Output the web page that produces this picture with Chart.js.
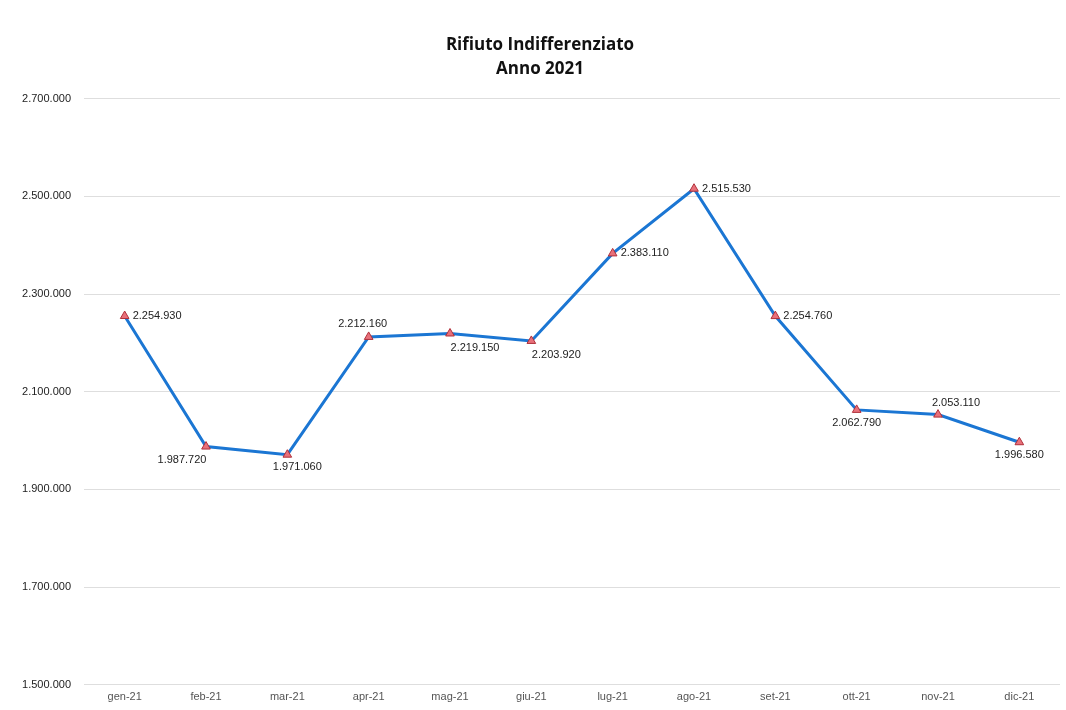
<!DOCTYPE html>
<html lang="it">
<head>
  <meta charset="UTF-8">
  <title>Rifiuto Indifferenziato 2021</title>
  <script src="https://cdn.jsdelivr.net/npm/chart.js"></script>
  <style>
    body {
      margin: 0;
      padding: 0;
      background: #fff;
    }
    .wrap {
      width: 1066px;
      height: 710px;
    }
  </style>
</head>
<body>
  <div class="wrap">
    <canvas id="grafico"></canvas>
  </div>

  <script>
    // Dati
    const mesi = ['gen-21', 'feb-21', 'mar-21', 'apr-21', 'mag-21', 'giu-21',
                  'lug-21', 'ago-21', 'set-21', 'ott-21', 'nov-21', 'dic-21'];
    const quantita = [2254930, 1987720, 1971060, 2212160, 2219150, 2203920,
                      2383110, 2515530, 2254760, 2062790, 2053110, 1996580];
    const tickValori = [1500000, 1700000, 1900000, 2100000, 2300000, 2500000, 2700000];

    // dove mettere l'etichetta di ogni punto
    const posEtichette = ['right', 'belowLeft', 'belowSlight', 'above', 'belowRight', 'belowRight',
                          'right', 'right', 'right', 'below', 'aboveRight', 'below'];

    const formatta = v => v.toLocaleString('de-DE');

    const etichettePlugin = {
      id: 'etichette',
      afterDatasetsDraw(chart) {
        const ctx = chart.ctx;
        const meta = chart.getDatasetMeta(0);
        ctx.save();
        ctx.font = '11px "Liberation Sans", Arial, sans-serif';
        ctx.fillStyle = '#222';
        meta.data.forEach((pt, i) => {
          const testo = formatta(quantita[i]);
          let x = pt.x, y = pt.y;
          switch (posEtichette[i]) {
            case 'right': ctx.textAlign = 'left'; x += 8; break;
            case 'below': ctx.textAlign = 'center'; y += 13; break;
            case 'belowSlight': ctx.textAlign = 'center'; y += 12; x += 10; break;
            case 'belowLeft': ctx.textAlign = 'center'; y += 13; x -= 24; break;
            case 'belowRight': ctx.textAlign = 'center'; y += 14; x += 25; break;
            case 'above': ctx.textAlign = 'center'; y -= 13; x -= 6; break;
            case 'aboveRight': ctx.textAlign = 'center'; y -= 12; x += 18; break;
          }
          ctx.textBaseline = 'middle';
          ctx.fillText(testo, x, y);
        });
        ctx.restore();
      }
    };

    new Chart(document.getElementById('grafico'), {
      type: 'line',
      data: {
        labels: mesi,
        datasets: [{
          label: 'Rifiuto Indifferenziato',
          data: quantita,
          borderColor: '#1b76d3',
          borderWidth: 3,
          tension: 0,
          pointStyle: 'triangle',
          pointRadius: 5,
          pointBackgroundColor: '#e8707a',
          pointBorderColor: '#b0303a',
          pointBorderWidth: 1
        }]
      },
      options: {
        responsive: true,
        maintainAspectRatio: false,
        animation: false,
        layout: {
          padding: { left: 18, right: 4, top: 23, bottom: 0 }
        },
        plugins: {
          legend: { display: false },
          tooltip: { enabled: false },
          title: {
            display: true,
            text: ['Rifiuto Indifferenziato', 'Anno 2021'],
            color: '#111',
            font: { family: '"Open Sans", sans-serif', size: 17, weight: 'bold', lineHeight: 1.4 },
            padding: { top: 10, bottom: 18 }
          }
        },
        scales: {
          x: {
            offset: true,
            grid: { display: false, drawTicks: false },
            border: { display: false },
            ticks: {
              color: '#555',
              font: { family: '"Liberation Sans", Arial, sans-serif', size: 11 },
              padding: 6
            }
          },
          y: {
            min: 1500000,
            max: 2700000,
            afterFit(scale) { scale.width = 66; },
            afterBuildTicks(scale) {
              scale.ticks = tickValori.map(v => ({ value: v }));
            },
            grid: { color: '#dedede', lineWidth: 1, drawTicks: false },
            border: { display: false },
            ticks: {
              color: '#222',
              padding: 13,
              font: { family: '"Liberation Sans", Arial, sans-serif', size: 11 },
              callback: v => formatta(v)
            }
          }
        }
      },
      plugins: [etichettePlugin]
    });
  </script>
</body>
</html>
